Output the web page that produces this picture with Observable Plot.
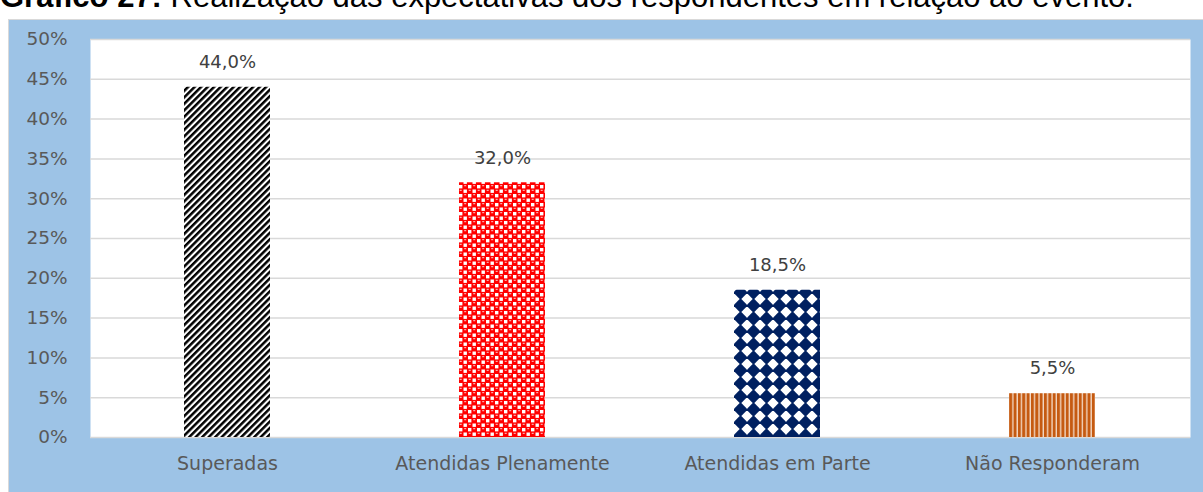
<!DOCTYPE html>
<html>
<head>
<meta charset="utf-8">
<script src="https://cdn.jsdelivr.net/npm/d3@7"></script>
<script src="https://cdn.jsdelivr.net/npm/@observablehq/plot@0.6"></script>
<style>
  html, body { margin: 0; padding: 0; background: #ffffff; overflow: hidden; }
  #wrap { position: relative; width: 1203px; height: 492px; overflow: hidden; }
  #title { position: absolute; left: 0; top: -19px; white-space: nowrap; line-height: 31px;
           font-family: "Liberation Sans", Arial, sans-serif; font-size: 31px; color: #000; }
  #frame { position: absolute; left: 8px; top: 19px; width: 1200px; height: 490px;
           background: #9DC3E6; border: 1px solid #d9d9d9; }
  #chart { position: absolute; left: 0; top: 0; }
</style>
</head>
<body>
<div id="wrap">
  <div id="title"><b>Gráfico 27:</b> Realização das expectativas dos respondentes em relação ao evento.</div>
  <div id="frame"></div>
  <div id="chart"></div>
</div>
<script>
const categories = ["Superadas", "Atendidas Plenamente", "Atendidas em Parte", "Não Responderam"];
const values = [44.0, 32.0, 18.5, 5.5];
const yTicks = [0, 5, 10, 15, 20, 25, 30, 35, 40, 45, 50];

const patternIds = ["pat-stripes", "pat-red", "pat-navy", "pat-orange"];
const data = categories.map((c, i) => ({cat: c, value: values[i], fill: `url(#${patternIds[i]})`}));
const fmt = v => v.toFixed(1).replace(".", ",") + "%";

const FONT = "'DejaVu Sans', sans-serif";

const plot = Plot.plot({
  width: 1203,
  height: 492,
  marginLeft: 90,
  marginRight: 13,
  marginTop: 39,
  marginBottom: 55,
  style: {background: "transparent", fontFamily: FONT, fontSize: "18px", color: "#595959"},
  x: {domain: categories, paddingInner: 0.687, paddingOuter: 0.3435, label: null},
  y: {domain: [0, 50], label: null},
  color: {type: "identity"},
  marks: [
    Plot.frame({fill: "white", stroke: null}),
    Plot.ruleY(yTicks, {stroke: "#d9d9d9", strokeWidth: 1.5}),
    Plot.barY(data, {x: "cat", y: "value", fill: "fill"}),
    Plot.text(data, {x: "cat", y: "value", text: d => fmt(d.value), dy: -25, fontSize: 18, fill: "#404040", fontFamily: FONT}),
    Plot.axisY({ticks: yTicks, tickFormat: d => d + "%", label: null, tickSize: 0, tickPadding: 23, fontSize: 18.5, fill: "#595959", fontFamily: FONT}),
    Plot.axisX({label: null, tickSize: 0, tickPadding: 19, fontSize: 19, fill: "#595959", fontFamily: FONT})
  ]
});

// pattern definitions
const ns = "http://www.w3.org/2000/svg";
const defs = document.createElementNS(ns, "defs");
defs.innerHTML = `
  <pattern id="pat-stripes" patternUnits="userSpaceOnUse" width="4.6" height="4.6" patternTransform="rotate(45)">
    <rect width="4.6" height="4.6" fill="#ffffff"/>
    <rect width="2.5" height="4.6" fill="#000000"/>
  </pattern>
  <pattern id="pat-red" patternUnits="userSpaceOnUse" width="9" height="9">
    <rect width="9" height="9" fill="#ff0000"/>
    <rect x="0" y="5" width="3.4" height="3.4" fill="#ffffff"/>
    <rect x="4.5" y="0.5" width="3.4" height="3.4" fill="#ffffff"/>
    <rect x="5.2" y="5.2" width="2" height="1" fill="#ffd0d0"/>
    <rect x="0.7" y="0.8" width="2" height="1" fill="#ffd0d0"/>
  </pattern>
  <pattern id="pat-navy" patternUnits="userSpaceOnUse" width="13" height="13" x="734" y="0">
    <rect width="13" height="13" fill="#ffffff"/>
    <path d="M6.5,-0.8 L13.8,6.5 L6.5,13.8 L-0.8,6.5 Z" fill="#002060"/>
  </pattern>
  <pattern id="pat-orange" patternUnits="userSpaceOnUse" width="4.35" height="10">
    <rect width="4.35" height="10" fill="#f3d9c6"/>
    <rect width="3" height="10" fill="#c55a11"/>
  </pattern>`;
plot.insertBefore(defs, plot.firstChild);
document.getElementById("chart").appendChild(plot);
</script>
</body>
</html>
